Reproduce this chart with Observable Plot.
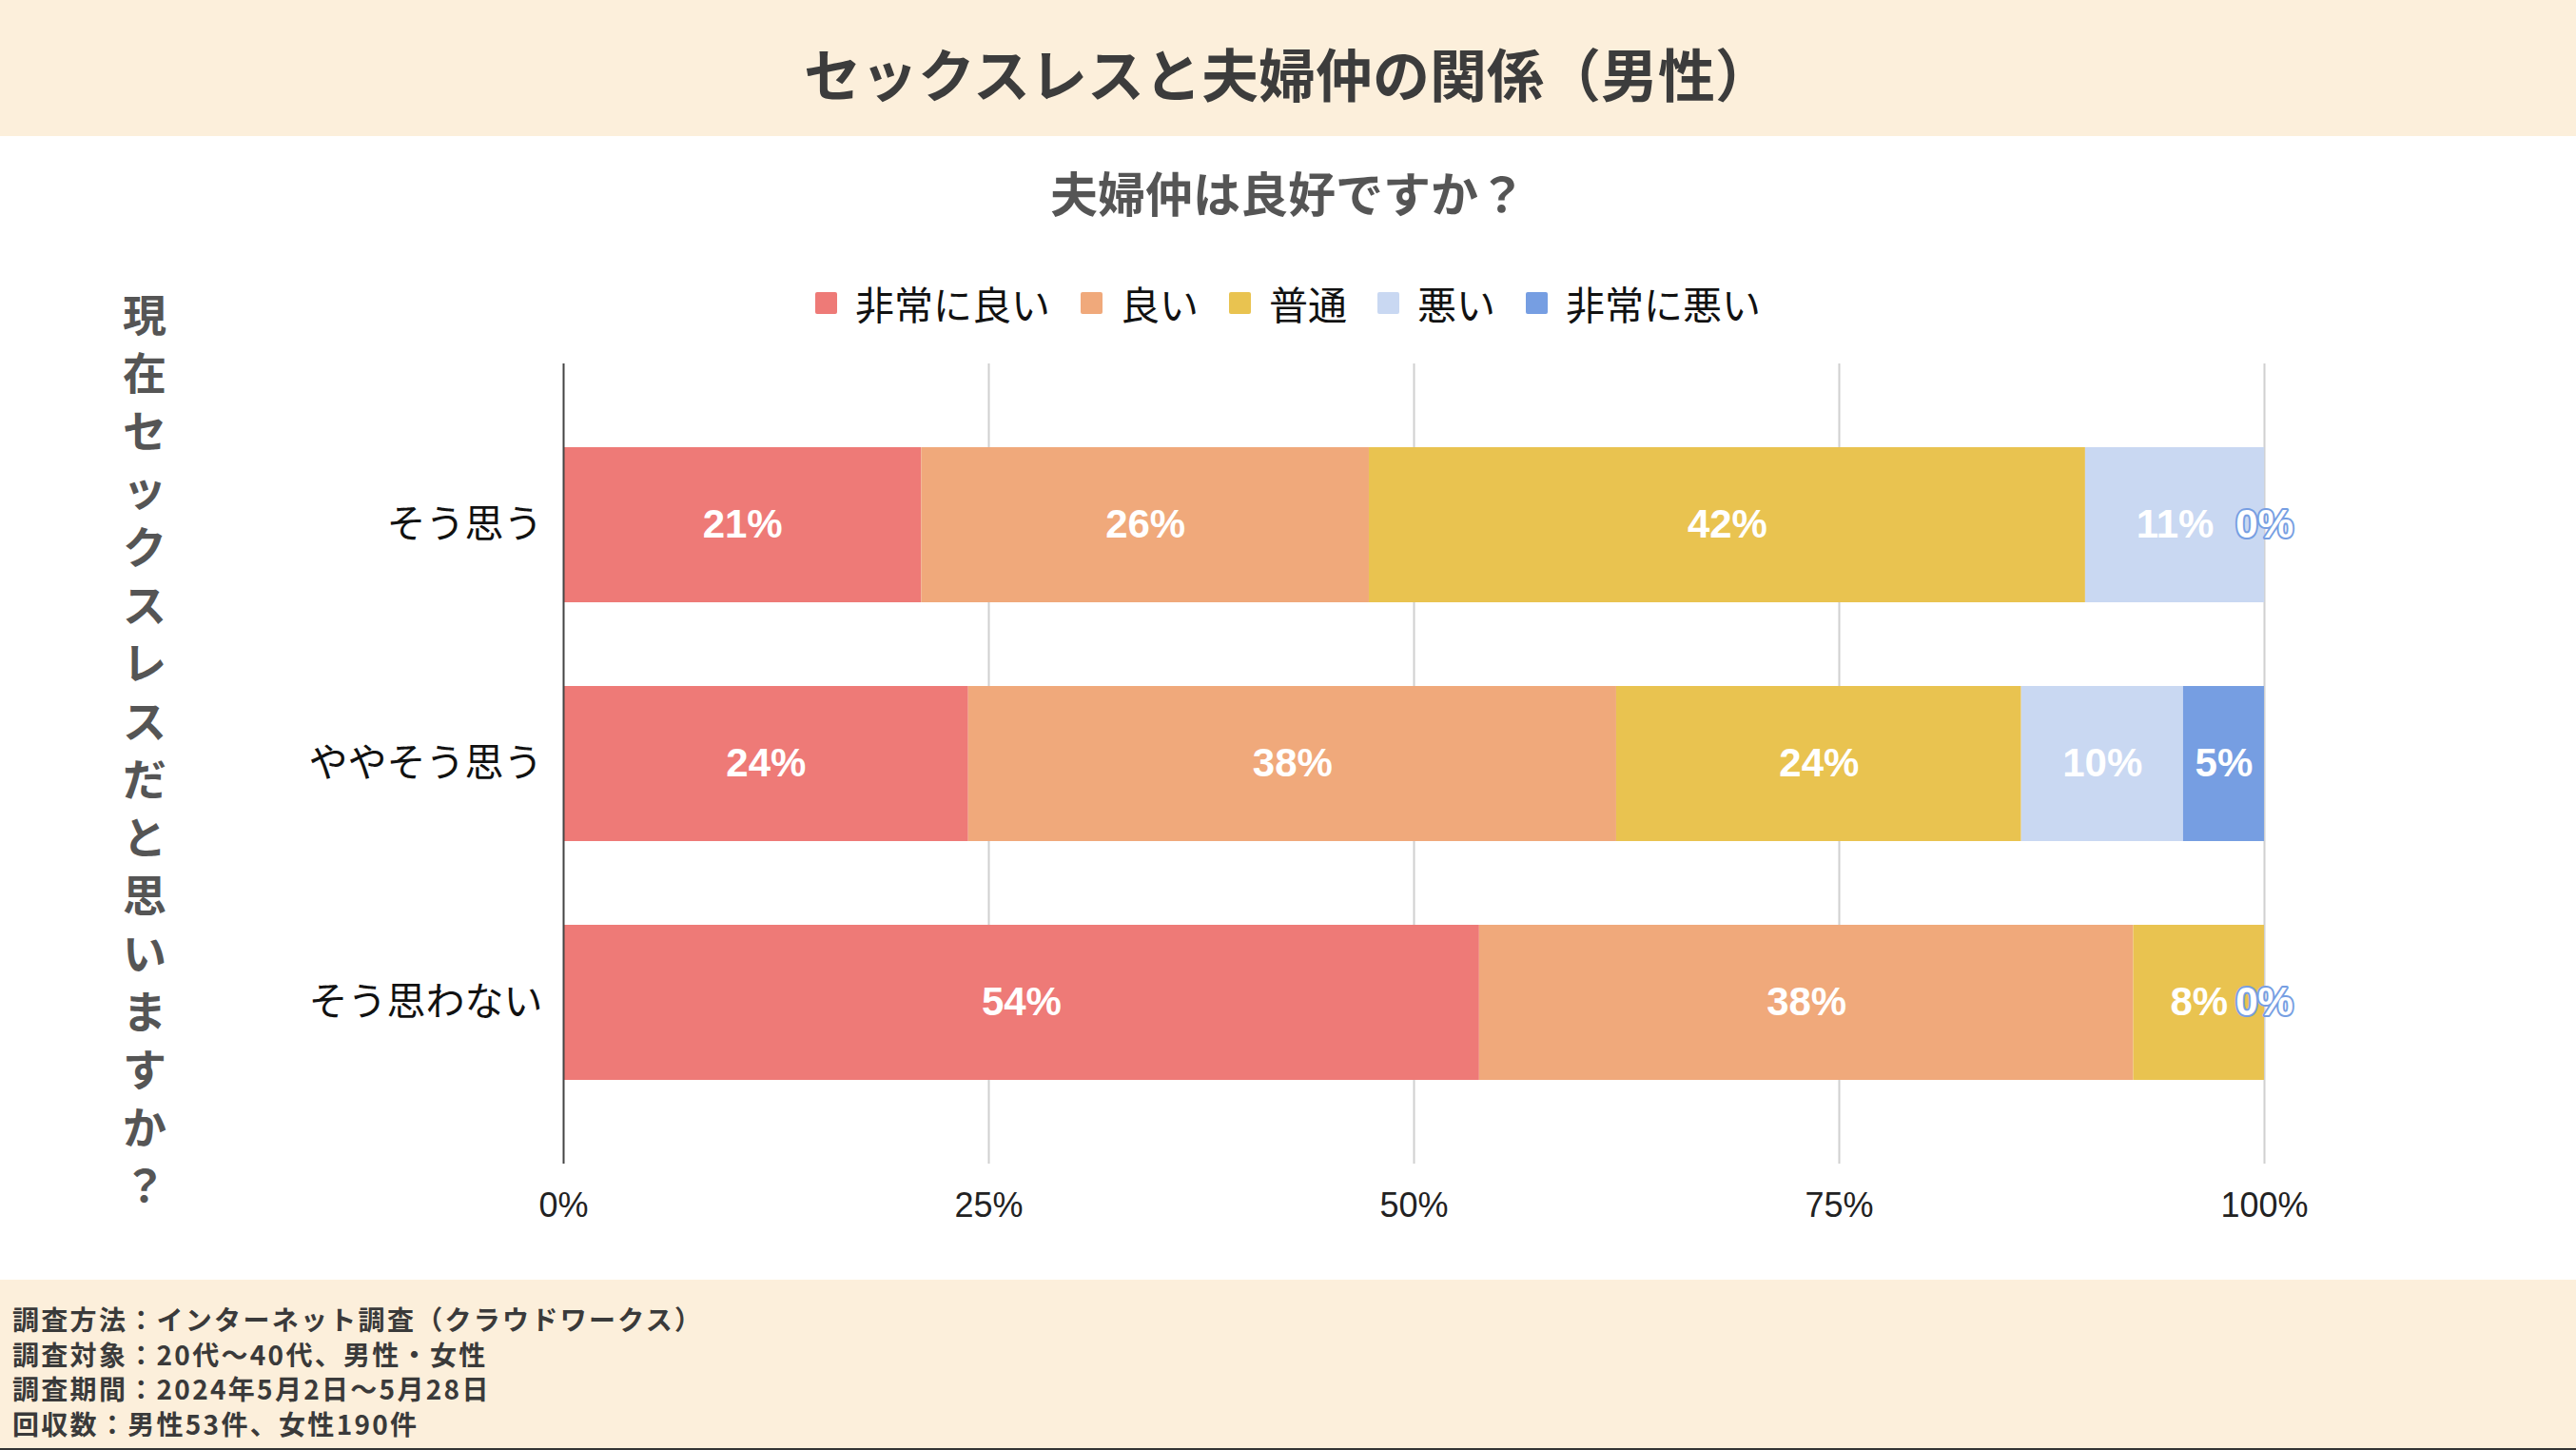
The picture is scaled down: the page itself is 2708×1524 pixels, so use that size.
<!DOCTYPE html>
<html>
<head>
<meta charset="utf-8">
<script src="https://cdn.jsdelivr.net/npm/d3@7"></script>
<script src="https://cdn.jsdelivr.net/npm/@observablehq/plot@0.6"></script>
<style>
  html, body { margin: 0; padding: 0; background: #ffffff; }
  body { width: 2708px; height: 1524px; position: relative; overflow: hidden; font-family: "Noto Sans CJK JP", "Noto Sans", sans-serif; }
  #titleBand { position: absolute; left: 0; top: 0; width: 2708px; height: 143px; background: #fcefdb; }
  #title { position: absolute; left: 0; top: 0; width: 2708px; height: 143px; line-height: 152px; text-align: center; font-size: 60px; font-weight: 700; color: #3c3c3c; }
  #subtitle { position: absolute; left: 0; top: 168px; width: 2708px; text-align: center; font-size: 50px; font-weight: 700; color: #555; line-height: 66px; }
  #legend { position: absolute; left: 0; top: 290px; width: 2708px; display: flex; justify-content: center; gap: 32px; font-size: 41px; color: #111; line-height: 56px; }
  #legend .item { display: flex; align-items: center; }
  #legend .sw { width: 23px; height: 23px; margin-right: 19px; border-radius: 2px; }
  #ylabel { position: absolute; left: 120px; top: 298px; width: 64px; height: 990px; font-size: 46px; font-weight: 700; color: #555; }
  #ylabel div { position: absolute; left: 0; width: 64px; height: 61px; line-height: 61px; text-align: center; overflow: visible; }
  #chart { position: absolute; left: 0; top: 360px; }
  #footer { position: absolute; left: 0; top: 1345px; width: 2708px; height: 177px; background: #fcefdb; border-bottom: 2px solid #333; }
  #footer .txt { position: absolute; left: 13px; top: 23px; font-size: 28px; letter-spacing: 2.3px; font-weight: 700; color: #3a3a3a; line-height: 36.5px; }
</style>
</head>
<body>
<div id="titleBand"></div>
<div id="title"></div>
<div id="subtitle"></div>
<div id="legend"></div>
<div id="ylabel"></div>
<div id="chart"></div>
<div id="footer"><div class="txt"></div></div>
<script>
// ---- data ----
const titleText = "セックスレスと夫婦仲の関係（男性）";
const subtitleText = "夫婦仲は良好ですか？";
const yAxisTitle = "現在セックスレスだと思いますか？";
const categories = ["そう思う", "ややそう思う", "そう思わない"];
const series = ["非常に良い", "良い", "普通", "悪い", "非常に悪い"];
const colors = ["#ee7a77", "#f0a97b", "#e9c350", "#c9d8f2", "#769ee2"];
const veryGood = [21.05, 23.81, 53.85];
const good = [26.32, 38.10, 38.46];
const normal = [42.11, 23.81, 7.69];
const bad = [10.53, 9.52, 0];
const veryBad = [0, 4.76, 0];
const xTicks = [0, 25, 50, 75, 100];
const footerLines = [
  "調査方法：インターネット調査（クラウドワークス）",
  "調査対象：20代〜40代、男性・女性",
  "調査期間：2024年5月2日〜5月28日",
  "回収数：男性53件、女性190件"
];

// ---- build table ----
const seriesValues = [veryGood, good, normal, bad, veryBad];
const rows = [];
categories.forEach((c, i) => {
  series.forEach((s, j) => {
    rows.push({cat: c, series: s, value: seriesValues[j][i]});
  });
});

document.getElementById("title").textContent = titleText;
document.getElementById("subtitle").textContent = subtitleText;
document.getElementById("ylabel").innerHTML = Array.from(yAxisTitle)
  .map((ch, i) => `<div style="top:${(i * 61).toFixed(1)}px">${ch}</div>`).join("");
document.querySelector("#footer .txt").innerHTML = footerLines.map(l => `<div>${l}</div>`).join("");
const legend = document.getElementById("legend");
series.forEach((s, j) => {
  const it = document.createElement("div");
  it.className = "item";
  it.innerHTML = `<span class="sw" style="background:${colors[j]}"></span><span>${s}</span>`;
  legend.appendChild(it);
});

const pct = d => `${Math.round(d.value)}%`;
const isZeroLabel = d => d.value === 0 && d.series === series[4];
const labelFont = "'Liberation Sans', Arial, sans-serif";

const chart = Plot.plot({
  width: 2708,
  height: 960,
  marginLeft: 592,
  marginRight: 328,
  marginTop: 22,
  marginBottom: 97,
  style: {background: "transparent", fontFamily: "'Noto Sans CJK JP', sans-serif"},
  x: {domain: [0, 100], label: null},
  y: {domain: categories, padding: 0.35, label: null},
  color: {domain: series, range: colors},
  marks: [
    Plot.ruleX(xTicks.filter(t => t > 0), {stroke: "#d0d0d0", strokeWidth: 2}),
    Plot.barX(rows, Plot.stackX({x: "value", y: "cat", fill: "series", order: series})),
    Plot.ruleX([0], {stroke: "#444", strokeWidth: 2}),
    Plot.axisX({ticks: xTicks, tickSize: 0, tickPadding: 30, tickFormat: d => d + "%", fontSize: 36, fill: "#222", fontFamily: labelFont}),
    Plot.axisY({tickSize: 0, tickPadding: 22, fontSize: 41, fill: "#111"}),
    Plot.text(rows, Plot.stackX({
      x: "value", y: "cat", z: "series", order: series,
      text: d => d.value > 0 ? pct(d) : "",
      fill: "white", fontSize: 42, fontWeight: "bold", fontFamily: labelFont
    })),
    Plot.text(rows, Plot.stackX({
      x: "value", y: "cat", z: "series", order: series,
      text: d => isZeroLabel(d) ? pct(d) : "",
      fill: "white", stroke: "#769ee2", strokeWidth: 4, paintOrder: "stroke",
      fontSize: 42, fontWeight: "bold", fontFamily: labelFont
    }))
  ]
});
document.getElementById("chart").appendChild(chart);
</script>
</body>
</html>
